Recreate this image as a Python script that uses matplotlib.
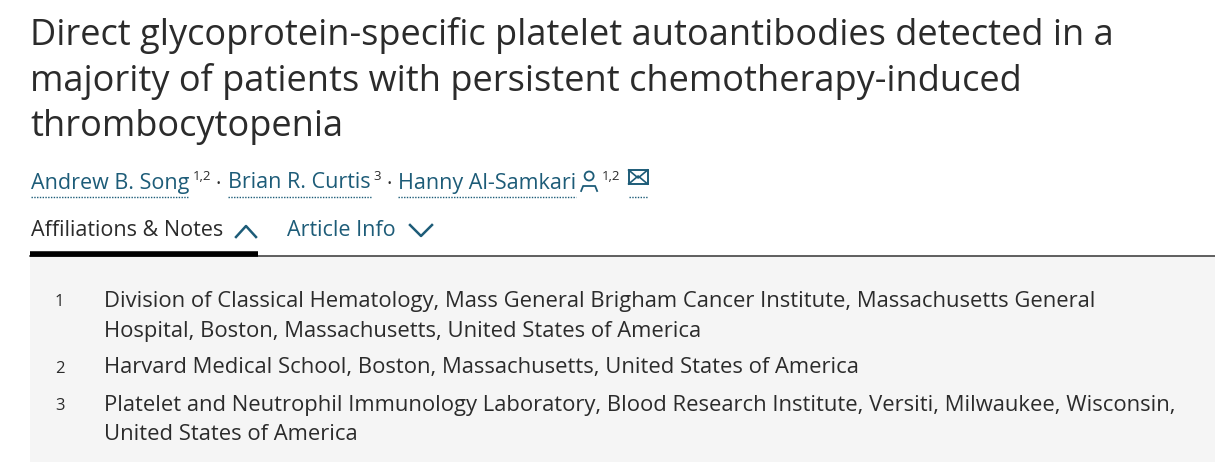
import matplotlib.pyplot as plt
from matplotlib.patches import Rectangle

title_lines = ["Direct glycoprotein-specific platelet autoantibodies detected in a",
               "majority of patients with persistent chemotherapy-induced",
               "thrombocytopenia"]
authors = [("Andrew B. Song", "1,2"), ("Brian R. Curtis", "3"), ("Hanny Al-Samkari", "1,2")]
tabs = ["Affiliations & Notes", "Article Info"]
affil_nums = ["1", "2", "3"]
affil_text = [["Division of Classical Hematology, Mass General Brigham Cancer Institute, Massachusetts General",
               "Hospital, Boston, Massachusetts, United States of America"],
              ["Harvard Medical School, Boston, Massachusetts, United States of America"],
              ["Platelet and Neutrophil Immunology Laboratory, Blood Research Institute, Versiti, Milwaukee, Wisconsin,",
               "United States of America"]]

dark = "#2b2b2b"
link = "#1d5c78"
font = "Open Sans"

fig = plt.figure(figsize=(12.15, 4.62), dpi=100)
ax = fig.add_axes([0, 0, 1, 1])
ax.set_xlim(0, 1215)
ax.set_ylim(462, 0)
ax.axis("off")

# title
for i, line in enumerate(title_lines):
    ax.text(30, 35 + i * 46, line, fontsize=26, color=dark, family=font, va="center")

# authors
r = fig.canvas.get_renderer()
x = 31
for i, (name, sup) in enumerate(authors):
    t = ax.text(x, 183, name, fontsize=15.5, color=link, family=font, va="center")
    w = t.get_window_extent(r).width
    ax.plot([x, x + w], [197, 197], color=link, lw=1, ls=(0, (1, 1)))
    x += w + 3
    if i == 2:
        ax.add_patch(plt.Circle((x + 10, 176), 4.5, fill=False, ec=link, lw=1.3))
        ax.plot([x + 2, x + 4, x + 16, x + 18], [191, 186, 186, 191], color=link, lw=1.3)
        x += 23
    s = ax.text(x, 177, sup, fontsize=9.5, color=dark, family=font, va="center")
    x += s.get_window_extent(r).width + 5
    if i < 2:
        ax.text(x, 184, "\u00b7", fontsize=15, color=dark, family=font, va="center")
        x += 12
# mail icon
ax.add_patch(Rectangle((x + 3, 170), 19, 14, fill=False, ec=link, lw=1.4))
ax.plot([x + 3, x + 12.5, x + 22], [170, 178, 170], color=link, lw=1.2)
ax.plot([x + 3, x + 12.5, x + 22], [184, 176, 184], color=link, lw=1.2)
ax.plot([x + 3, x + 22], [197, 197], color=link, lw=1, ls=(0, (1, 1)))

# tabs
ax.text(31, 231, tabs[0], fontsize=15.5, color=dark, family=font, va="center")
ax.plot([236, 246, 256], [237, 226, 237], color=link, lw=1.8)
ax.text(287, 231, tabs[1], fontsize=15.5, color=link, family=font, va="center")
ax.plot([410, 421, 432], [225, 236, 225], color=link, lw=1.8)

# box
ax.add_patch(Rectangle((30, 256), 1185, 206, color="#f5f5f5", lw=0))
ax.plot([30, 1215], [255.5, 255.5], color="#444444", lw=1.2)
ax.plot([30, 258], [254, 254], color="black", lw=4, solid_capstyle="butt")

y = 301
for num, lines in zip(affil_nums, affil_text):
    ax.text(55, y + 1, num, fontsize=12, color=dark, family=font, va="center")
    for ln in lines:
        ax.text(104, y, ln, fontsize=15.8, color=dark, family=font, va="center")
        y += 30
    y += 7

fig.savefig("out.png", dpi=100)
